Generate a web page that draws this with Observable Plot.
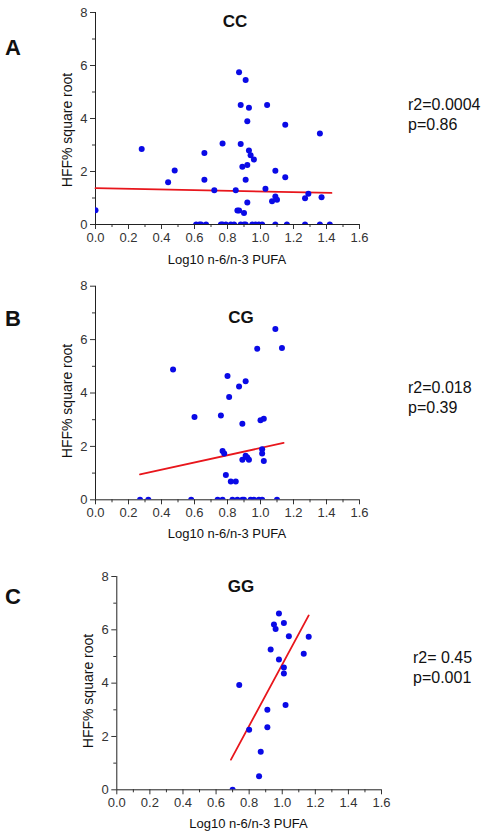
<!DOCTYPE html>
<html><head><meta charset="utf-8">
<script src="https://cdn.jsdelivr.net/npm/d3@7"></script>
<script src="https://cdn.jsdelivr.net/npm/@observablehq/plot@0.6"></script>
<style>
body{margin:0;background:#fff;}
#chart{position:relative;width:489px;height:837px;font-family:"Liberation Sans",Arial,sans-serif;}
#chart svg{position:absolute;left:0;}
</style></head><body><div id="chart"></div>
<script>
// ---- data ----
const ccX = [0.00,0.28,0.44,0.48,0.66,0.66,0.72,0.77,0.85,0.87,0.91,0.88,0.93,0.92,0.88,0.93,0.94,0.96,0.89,0.92,0.91,0.92,0.86,0.87,0.90,1.04,1.03,1.09,1.15,1.15,1.09,1.07,1.10,1.29,1.27,1.36,1.37,
  0.61,0.63,0.64,0.67,0.76,0.77,0.79,0.82,0.84,0.88,0.90,0.91,0.95,0.97,0.99,1.01,1.09,1.16,1.27,1.36,1.42];
const ccY = [0.54,2.85,1.59,2.04,2.70,1.69,1.29,3.06,1.29,5.75,5.45,4.51,4.41,3.90,3.04,2.79,2.61,2.45,2.18,2.25,1.69,0.83,0.53,0.53,0.43,4.51,1.35,2.03,3.76,1.78,1.06,0.88,0.93,1.16,0.99,3.43,1.03,
  0,0,0,0,0,0,0,0,0,0,0,0,0,0,0,0,0,0,0,0,0];
const ccFitX = [0.00,1.43];
const ccFitY = [1.37,1.19];

const cgX = [0.47,0.60,0.76,0.77,0.78,0.79,0.82,0.85,0.80,0.81,0.87,0.91,0.89,0.89,0.91,0.92,0.93,0.98,1.00,1.02,1.01,1.01,1.02,1.09,1.13,
  0.27,0.32,0.58,0.74,0.77,0.83,0.86,0.89,0.90,0.94,0.96,0.99,1.01,1.10];
const cgY = [4.88,3.10,3.16,1.83,1.73,0.93,0.69,0.69,4.64,3.85,4.24,4.44,2.85,1.50,1.65,1.58,1.50,5.66,2.98,3.04,1.89,1.73,1.45,6.40,5.69,
  0,0,0,0,0,0,0,0,0,0,0,0,0,0];
const cgFitX = [0.27,1.14];
const cgFitY = [0.95,2.13];

const ggX = [0.70,0.86,0.87,0.80,0.91,0.91,0.74,1.02,1.01,1.01,0.98,0.93,1.13,1.04,1.16,0.96,0.95,1.01,0.98];
const ggY = [0.00,0.51,1.43,2.25,2.35,3.00,3.93,3.18,4.36,4.59,4.89,5.26,5.10,5.76,5.74,6.03,6.20,6.26,6.61];
const ggFitX = [0.69,1.16];
const ggFitY = [1.13,6.54];

const xMajor = [0,0.2,0.4,0.6,0.8,1.0,1.2,1.4,1.6];
const xMinor = [0.1,0.3,0.5,0.7,0.9,1.1,1.3,1.5];
const yMajor = [0,2,4,6,8];
const yMinor = [1,3,5,7];

const panelLetters = ["A","B","C"];
const genotypes = ["CC","CG","GG"];
const statR2 = ["r2=0.0004","r2=0.018","r2= 0.45"];
const statP = ["p=0.86","p=0.39","p=0.001"];
const xTitle = "Log10 n-6/n-3 PUFA";
const yTitle = "HFF% square root";

const blue = "#0a0ae6";
const red = "#e8161c";
const FONT = "Liberation Sans, Arial, sans-serif";

function rows(xs, ys){ return xs.map((x,i)=>({x, y: ys[i]})); }

function panel(cfg){
  const plot = Plot.plot({
    width: 489, height: cfg.h,
    marginLeft: cfg.ml, marginRight: cfg.mr, marginTop: cfg.mt, marginBottom: cfg.mb,
    style: {fontFamily: FONT, fontSize: "13px", background: "transparent", overflow: "visible", color: "#333"},
    x: {domain: [0,1.6]},
    y: {domain: [0,8]},
    marks: [
      Plot.axisX(xMajor, {tickSize: 5, tickPadding: 3, tickFormat: d3.format(".1f"), label: null, fontSize: 13}),
      Plot.axisX(xMinor, {tickSize: 3, tickFormat: () => "", label: null}),
      Plot.axisY(yMajor, {tickSize: 5, tickPadding: 3, tickFormat: d3.format("d"), label: null, fontSize: 13}),
      Plot.axisY(yMinor, {tickSize: 3, tickFormat: () => "", label: null}),
      Plot.ruleX([0], {stroke: "#222"}),
      Plot.ruleY([0], {stroke: "#222"}),
      Plot.line(rows(cfg.fitX, cfg.fitY), {x: "x", y: "y", stroke: red, strokeWidth: 1.8}),
      Plot.dot(rows(cfg.x, cfg.y), {x: "x", y: "y", r: 3, fill: blue, clip: true})
    ]
  });
  plot.style.top = cfg.top + "px";
  const s = d3.select(plot);
  const t = (x, y, str, size, weight, anchor) => s.append("text")
    .attr("x", x).attr("y", y).attr("font-family", FONT).attr("font-size", size)
    .attr("font-weight", weight).attr("text-anchor", anchor).attr("fill", "#111").text(str);
  t(13, cfg.letterY, cfg.letter, 22, "bold", "middle");
  t(cfg.titleX, cfg.titleY, cfg.title, 17, "bold", "middle");
  t(cfg.statX, cfg.statY, cfg.r2, 16, "normal", "start");
  t(cfg.statX, cfg.statY + 20, cfg.p, 16, "normal", "start");
  t(cfg.xlX, cfg.xlY, xTitle, 13, "normal", "middle");
  s.append("text").attr("transform", `translate(${cfg.ylX},${cfg.ylY}) rotate(-90)`)
    .attr("font-family", FONT).attr("font-size", 14).attr("text-anchor", "middle")
    .attr("fill", "#111").text(yTitle);
  document.getElementById("chart").appendChild(plot);
}

panel({top: 0, h: 280, ml: 95, mr: 130, mt: 12, mb: 56,
  x: ccX, y: ccY, fitX: ccFitX, fitY: ccFitY,
  letter: panelLetters[0], letterY: 55, title: genotypes[0], titleX: 235, titleY: 27,
  r2: statR2[0], p: statP[0], statX: 408, statY: 110,
  xlX: 227, xlY: 264, ylX: 72, ylY: 130});

panel({top: 270, h: 280, ml: 95, mr: 130, mt: 15.7, mb: 50.7,
  x: cgX, y: cgY, fitX: cgFitX, fitY: cgFitY,
  letter: panelLetters[1], letterY: 56, title: genotypes[1], titleX: 241, titleY: 53,
  r2: statR2[1], p: statP[1], statX: 408, statY: 123,
  xlX: 227, xlY: 268, ylX: 72, ylY: 131});

panel({top: 550, h: 287, ml: 116.3, mr: 108, mt: 26, mb: 47.7,
  x: ggX, y: ggY, fitX: ggFitX, fitY: ggFitY,
  letter: panelLetters[2], letterY: 54, title: genotypes[2], titleX: 241, titleY: 42,
  r2: statR2[2], p: statP[2], statX: 413, statY: 113,
  xlX: 248.5, xlY: 278, ylX: 93, ylY: 141});
</script></body></html>
